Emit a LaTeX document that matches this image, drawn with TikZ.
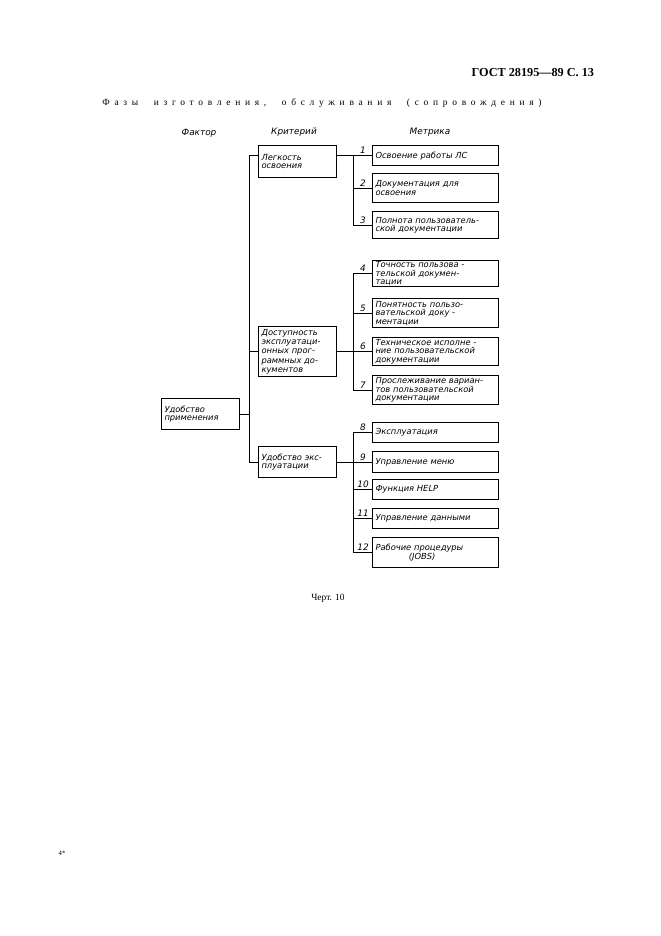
\documentclass[tikz,border=0pt]{standalone}
\usepackage{fontspec}
\setmainfont{Liberation Serif}
\newfontfamily\gost{DejaVu Sans}
\usetikzlibrary{calc}
\begin{document}
\begin{tikzpicture}[x=0.9pt,y=-0.9pt,
  box/.style={draw, line width=1.3pt, anchor=north west, inner xsep=2.5pt, inner ysep=0pt,
    align=left, font=\gost\itshape\fontsize{7.5}{7.7}\selectfont},
  mbox/.style={box, minimum width=113.4pt, text width=108.4pt, minimum height=#1},
  cbox/.style={box, minimum width=70.2pt, text width=65.2pt, minimum height=#1},
  conn/.style={line width=0.75pt},
  num/.style={anchor=south, inner sep=0.5pt, font=\gost\itshape\fontsize{8}{8}\selectfont},
  head/.style={font=\gost\itshape\fontsize{8}{8}\selectfont}
]
\useasboundingbox (0,0) rectangle (661,936);

% header
\node[anchor=east, font=\bfseries\fontsize{11}{12}\selectfont] (hdr) at (598,73) {ГОСТ 28195—89 С. 13};
\node[font=\addfontfeature{LetterSpace=50}\fontsize{8.5}{10}\selectfont] (title) at (322,103)
  {Фазы\hspace{14pt}изготовления,\hspace{14pt}обслуживания\hspace{14pt}(сопровождения)};

% column heads
\node[head] (hf) at (199,133) {Фактор};
\node[head] (hc) at (294,132) {Критерий};
\node[head] (hm) at (430,132) {Метрика};

% factor
\node[cbox=27.9pt] (F) at (161,398) {Удобство\\применения};

% criteria
\node[cbox=28.8pt] (C1) at (258,145) {Легкость\\освоения};
\node[cbox=45pt, font=\gost\itshape\fontsize{7.5}{8.3}\selectfont] (C2) at (258,326) {Доступность\\эксплуатаци-\\онных прог-\\раммных до-\\кументов};
\node[cbox=27.9pt] (C3) at (258,446) {Удобство экс-\\плуатации};

% metrics
\node[mbox=18pt] (M1) at (372,145) {Освоение работы ЛС};
\node[mbox=26.1pt] (M2) at (372,173) {Документация для\\освоения};
\node[mbox=24.3pt] (M3) at (372,211) {Полнота пользователь-\\ской документации};
\node[mbox=23.4pt] (M4) at (372,260) {Точность пользова -\\тельской докумен-\\тации};
\node[mbox=26.1pt] (M5) at (372,298) {Понятность пользо-\\вательской доку -\\ментации};
\node[mbox=25.2pt] (M6) at (372,337) {Техническое исполне -\\ние пользовательской\\документации};
\node[mbox=26.1pt] (M7) at (372,375) {Прослеживание вариан-\\тов пользовательской\\документации};
\node[mbox=18pt] (M8) at (372,422) {Эксплуатация};
\node[mbox=18.9pt] (M9) at (372,451) {Управление меню};
\node[mbox=18pt] (M10) at (372,479) {Функция HELP};
\node[mbox=18pt] (M11) at (372,508) {Управление данными};
\node[mbox=27pt] (M12) at (372,537) {Рабочие процедуры\\\hspace*{30pt}(JOBS)};

% trunk and branch x positions
\coordinate (T) at (249,0);
\coordinate (B) at (353,0);

% factor to criteria
\draw[conn] (C1.west |- M1.west) -- (T |- M1.west) -- (T |- C3.west) -- (C3.west);
\draw[conn] (C2.west) -- (T |- C2.west);
\draw[conn] (F.east) -- (T |- F.east);

% group 1
\draw[conn] (C1.east |- M1.west) -- (M1.west);
\draw[conn] (B |- M1.west) -- (B |- M3.west) -- (M3.west);
\draw[conn] (B |- M2.west) -- (M2.west);

% group 2
\draw[conn] (C2.east) -- (B |- C2.east);
\draw[conn] (M4.west) -- (B |- M4.west) -- (B |- M7.west) -- (M7.west);
\draw[conn] (B |- M5.west) -- (M5.west);
\draw[conn] (B |- M6.west) -- (M6.west);

% group 3
\draw[conn] (C3.east) -- (B |- C3.east);
\draw[conn] (M8.west) -- (B |- M8.west) -- (B |- M12.west) -- (M12.west);
\draw[conn] (B |- M9.west) -- (M9.west);
\draw[conn] (B |- M10.west) -- (M10.west);
\draw[conn] (B |- M11.west) -- (M11.west);

% numbers
\foreach \i in {1,...,12} {
  \node[num] (n\i) at ($(M\i.west)+(-9,-1)$) {\i};
}

% caption
\node[font=\fontsize{8.5}{10}\selectfont] (cap) at (328,598) {Черт. 10};
\node[font=\fontsize{6}{7}\selectfont] (pg) at (62,853) {4*};
\end{tikzpicture}
\end{document}
